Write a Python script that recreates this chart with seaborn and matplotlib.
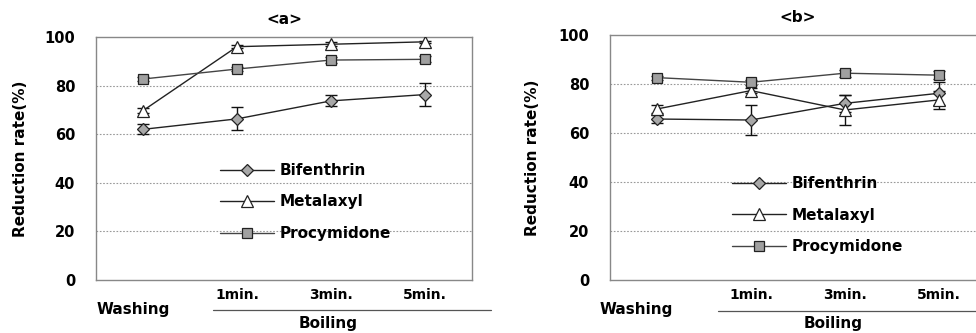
import numpy as np
import pandas as pd
import matplotlib
matplotlib.use("Agg")
import matplotlib.pyplot as plt
import seaborn as sns
from matplotlib.lines import Line2D

categories = ["Washing", "1min.", "3min.", "5min."]
series = ["Bifenthrin", "Metalaxyl", "Procymidone"]

a_bifenthrin = [62.0, 66.3, 73.7, 76.3]
a_bifenthrin_err = [2.0, 4.7, 2.3, 4.7]
a_metalaxyl = [69.7, 96.0, 97.0, 98.0]
a_metalaxyl_err = [1.0, 0.5, 0.8, 0.5]
a_procymidone = [82.7, 86.8, 90.5, 90.8]
a_procymidone_err = [0.8, 0.8, 1.2, 1.3]

b_bifenthrin = [65.7, 65.3, 72.1, 76.2]
b_bifenthrin_err = [1.8, 6.0, 3.4, 4.6]
b_metalaxyl = [69.8, 77.3, 69.4, 73.5]
b_metalaxyl_err = [1.5, 1.0, 6.2, 3.8]
b_procymidone = [82.6, 80.7, 84.4, 83.6]
b_procymidone_err = [0.8, 1.0, 1.5, 1.5]

yticks = [0, 20, 40, 60, 80, 100]

sns.set_theme(style="white")
plt.rcParams['font.family'] = ['DejaVu Sans']
plt.rcParams['font.weight'] = 'bold'
plt.rcParams['text.color'] = 'black'
plt.rcParams['axes.labelcolor'] = 'black'
plt.rcParams['xtick.color'] = 'black'
plt.rcParams['ytick.color'] = 'black'

def make_df(vals, errs):
    rows = []
    for s, v, e in zip(series, vals, errs):
        for i, c in enumerate(categories):
            rows.append({"x": i, "cat": c, "series": s, "value": v[i], "err": e[i]})
    return pd.DataFrame(rows)

df_a = make_df([a_bifenthrin, a_metalaxyl, a_procymidone],
               [a_bifenthrin_err, a_metalaxyl_err, a_procymidone_err])
df_b = make_df([b_bifenthrin, b_metalaxyl, b_procymidone],
               [b_bifenthrin_err, b_metalaxyl_err, b_procymidone_err])

markers = {"Bifenthrin": "D", "Metalaxyl": "^", "Procymidone": "s"}
mfc = {"Bifenthrin": "#a8a8a8", "Metalaxyl": "white", "Procymidone": "#a0a0a0"}
msize = {"Bifenthrin": 6, "Metalaxyl": 9, "Procymidone": 7}
lcolor = {"Bifenthrin": "#222222", "Metalaxyl": "#222222", "Procymidone": "#444444"}

fig = plt.figure(figsize=(9.76, 3.33), dpi=100)
ax_a = fig.add_axes([0.0984, 0.159, 0.385, 0.730])
ax_b = fig.add_axes([0.625, 0.159, 0.385, 0.736])

def draw(ax, df, title, legend_anchor, washing_x, boil_x0, boil_xc, ylab_x):
    for s in series:
        sub = df[df.series == s]
        sns.lineplot(data=sub, x="x", y="value", ax=ax, color=lcolor[s], lw=1.0,
                     marker=markers[s], markersize=msize[s], markerfacecolor=mfc[s],
                     markeredgecolor="#222222", markeredgewidth=0.9, legend=False,
                     errorbar=None, zorder=3)
        ax.errorbar(sub["x"], sub["value"], yerr=sub["err"], fmt="none",
                    ecolor="#111111", elinewidth=1.0, capsize=4, capthick=1.0, zorder=2)
    ax.set_xlim(-0.5, len(categories) - 0.5)
    ax.set_ylim(0, 100)
    ax.set_yticks(yticks)
    ax.set_yticklabels([str(t) for t in yticks], fontsize=10.5, fontweight="bold")
    ax.tick_params(axis="y", length=0, pad=15)
    ax.tick_params(axis="x", length=0, pad=6)
    ax.set_xticks(range(1, len(categories)))
    ax.set_xticklabels(categories[1:], fontsize=10, fontweight="bold")
    ax.set_xlabel("")
    ax.set_ylabel("")
    for t in yticks[1:-1]:
        ax.axhline(t, color="#999999", lw=0.8, ls=(0, (1.5, 1.5)), zorder=0)
    for sp in ax.spines.values():
        sp.set_color("#888888")
        sp.set_linewidth(1.0)
    ax.set_title(title, fontsize=11, fontweight="bold", pad=9)
    ax.text(washing_x, -0.12, categories[0], transform=ax.get_xaxis_transform(),
            ha="center", va="center", fontsize=11, fontweight="bold", clip_on=False)
    ax.add_line(Line2D([boil_x0, 1.05], [-0.125, -0.125], transform=ax.transAxes,
                       color="#555555", lw=0.9, clip_on=False))
    ax.text(boil_xc, -0.178, "Boiling", transform=ax.get_xaxis_transform(),
            ha="center", va="center", fontsize=11, fontweight="bold", clip_on=False)
    ax.text(ylab_x, 0.5, "Reduction rate(%)", transform=ax.transAxes, rotation=90,
            ha="center", va="center", fontsize=11, fontweight="bold")
    handles = [Line2D([], [], color=lcolor[s], lw=1.0, marker=markers[s],
                      markersize=msize[s], markerfacecolor=mfc[s],
                      markeredgecolor="#222222", markeredgewidth=0.9) for s in series]
    leg = ax.legend(handles, series, loc="upper left", bbox_to_anchor=legend_anchor,
                    frameon=False, fontsize=11, handlelength=3.5, handletextpad=0.4,
                    labelspacing=1.08, borderaxespad=0)
    for t in leg.get_texts():
        t.set_fontweight("bold")
        t.set_color("black")

draw(ax_a, df_a, "<a>", (0.314, 0.507), -0.1, 0.31, 1.97, -0.2)
draw(ax_b, df_b, "<b>", (0.309, 0.449), -0.22, 0.287, 1.87, -0.205)

fig.savefig("out.png", dpi=100)
